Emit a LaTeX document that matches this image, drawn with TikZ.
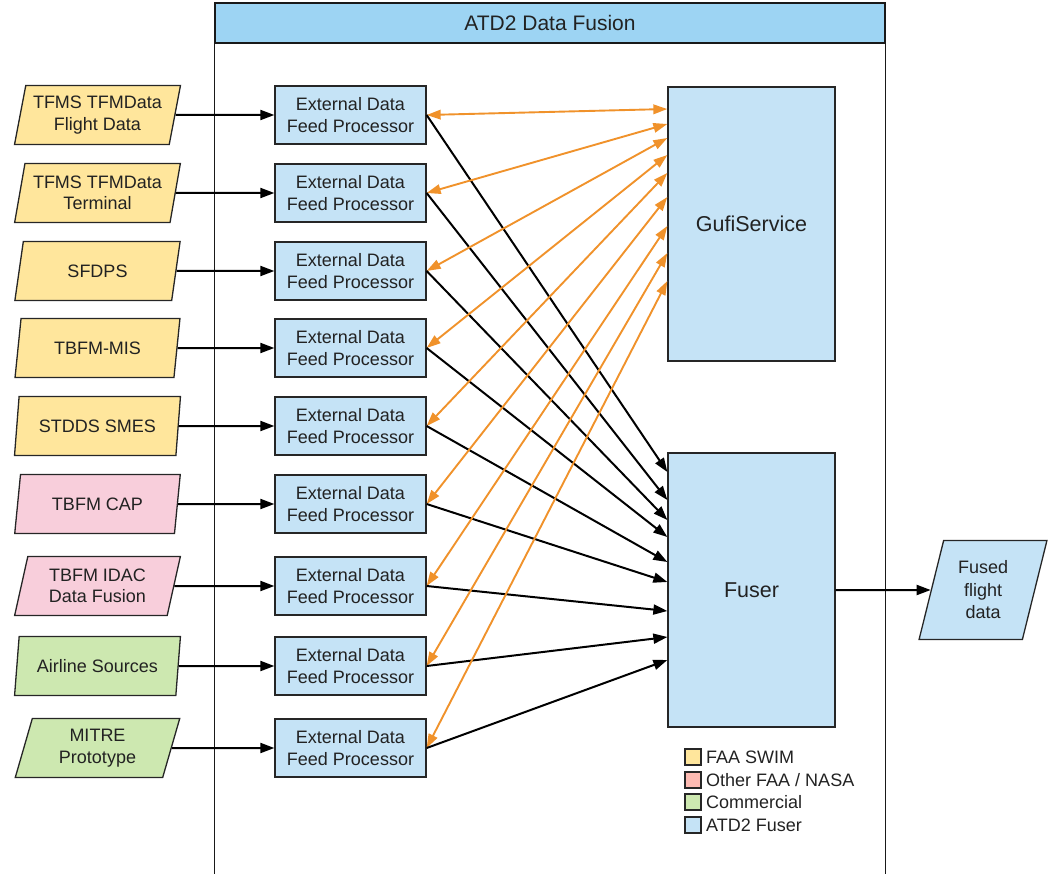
\documentclass[tikz,border=0pt]{standalone}
\usepackage{fontspec}
\setmainfont{Liberation Sans}
\usetikzlibrary{shapes.geometric,arrows.meta}
\definecolor{cyel}{HTML}{FFE69C}
\definecolor{cpink}{HTML}{F8CEDB}
\definecolor{csalmon}{HTML}{FDBAB2}
\definecolor{cgreen}{HTML}{CDE8B0}
\definecolor{cblue}{HTML}{C5E3F6}
\definecolor{ctitle}{HTML}{9DD4F3}
\definecolor{corange}{HTML}{F0922B}
\definecolor{ctext}{HTML}{222222}
\begin{document}
\begin{tikzpicture}[x=1pt,y=-1pt,
  src/.style={trapezium, trapezium left angle=75, trapezium right angle=105,
    trapezium stretches=true, draw=black!85, line width=1.3pt,
    minimum width=166pt, minimum height=59pt, inner sep=0pt, align=center,
    font=\fontsize{18}{21.5}\selectfont, text=ctext},
  proc/.style={rectangle, draw=black!85, line width=1.3pt, fill=cblue,
    minimum width=151pt, minimum height=58pt, inner sep=0pt, align=center,
    font=\fontsize{18}{21.5}\selectfont, text=ctext},
  big/.style={rectangle, draw=black!85, line width=1.3pt, fill=cblue,
    minimum width=167pt, minimum height=274pt, inner sep=0pt,
    font=\fontsize{21.5}{25}\selectfont, text=ctext},
  lane/.style={draw=black!90, line width=1.3pt},
  feed/.style={black, line width=2pt, -{Triangle[length=14pt,width=10pt]}},
  gufi/.style={corange, line width=1.9pt,
    {Triangle[length=14pt,width=9.5pt]}-{Triangle[length=14pt,width=9.5pt]}},
  legbox/.style={rectangle, draw=black!85, line width=1.1pt,
    minimum width=16pt, minimum height=16pt, inner sep=0pt},
  legtxt/.style={anchor=west, inner sep=0pt, font=\fontsize{18}{21}\selectfont, text=ctext}
]
\useasboundingbox (0,0) rectangle (1048,874);

% swimlane
\node[rectangle, draw=black!90, line width=1.3pt, fill=ctitle,
  minimum width=670pt, minimum height=40pt, inner sep=0pt,
  font=\fontsize{21}{25}\selectfont, text=ctext] (lane) at (550,23) {ATD2 Data Fusion};
\draw[lane] (lane.south west) -- ++(0,840);
\draw[lane] (lane.south east) -- ++(0,840);

% big boxes
\node[big] (gufisvc) at (751.5,224) {GufiService};
\node[big] (fuser) at (751.5,590) {Fuser};

% sources and processors
\foreach \i/\y/\col/\txt/\gy/\fy in {
  1/115/cyel/{TFMS TFMData\\Flight Data}/109/472,
  2/193/cyel/{TFMS TFMData\\Terminal}/124/500,
  3/271/cyel/{SFDPS}/138/520,
  4/348/cyel/{TBFM-MIS}/155/537,
  5/426/cyel/{STDDS SMES}/173/562,
  6/504/cpink/{TBFM CAP}/197/582,
  7/586/cpink/{TBFM IDAC\\Data Fusion}/226/611,
  8/666/cgreen/{Airline Sources}/253/637,
  9/748/cgreen/{MITRE\\Prototype}/281/660}{
  \node[src, fill=\col] (s\i) at (97.5,\y) {\txt};
  \node[proc] (p\i) at (350.5,\y) {External Data\\Feed Processor};
  \draw[feed] (s\i.east) -- (p\i.west);
  \draw[gufi] (p\i.east) -- (gufisvc.west |- 0,\gy);
  \draw[feed] (p\i.east) -- (fuser.west |- 0,\fy);
}

% output
\node[src, fill=cblue, minimum width=128pt, minimum height=99pt,
  font=\fontsize{18}{22.5}\selectfont] (fused) at (983,590) {Fused\\flight\\data};
\draw[feed] (fuser.east) -- (fused.west);

% legend
\foreach \j/\y/\col/\txt in {1/757/cyel/{FAA SWIM}, 2/780/csalmon/{Other FAA / NASA},
  3/802/cgreen/{Commercial}, 4/825/cblue/{ATD2 Fuser}}{
  \node[legbox, fill=\col] (lb\j) at (693,\y) {};
  \node[legtxt] (lt\j) at (706,\y) {\txt};
}
\end{tikzpicture}
\end{document}
